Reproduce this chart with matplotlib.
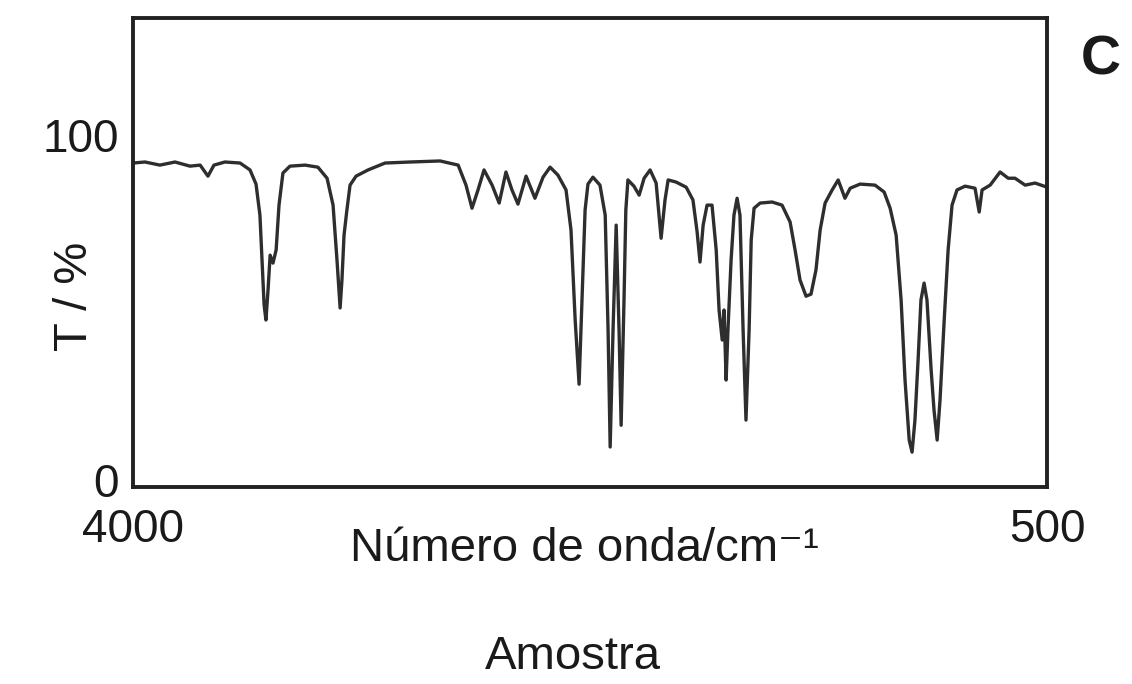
import matplotlib
matplotlib.use("Agg")
import matplotlib.pyplot as plt

plt.rcParams['font.family'] = ['Liberation Sans', 'DejaVu Sans']

# traced IR spectrum, wavenumber (cm-1) vs transmittance (%)
wavenumber = [
    4000, 3954, 3897, 3839, 3782, 3743, 3713, 3690, 3648, 3590,
    3552, 3529, 3514, 3506, 3498, 3491, 3483, 3475, 3464, 3452,
    3441, 3426, 3399, 3341, 3292, 3257, 3234, 3219, 3207, 3200,
    3192, 3181, 3169, 3146, 3100, 3035, 2939, 2824, 2755, 2725,
    2702, 2679, 2656, 2625, 2598, 2572, 2549, 2526, 2495, 2461,
    2430, 2403, 2373, 2342, 2323, 2307, 2292, 2281, 2269, 2258,
    2239, 2212, 2192, 2181, 2173, 2162, 2150, 2139, 2131, 2120,
    2113, 2105, 2082, 2062, 2043, 2020, 1997, 1978, 1963, 1951,
    1921, 1882, 1856, 1840, 1829, 1817, 1802, 1783, 1767, 1756,
    1744, 1737, 1729, 1722, 1710, 1699, 1687, 1676, 1664, 1653,
    1641, 1633, 1622, 1599, 1553, 1515, 1484, 1465, 1446, 1423,
    1404, 1385, 1369, 1350, 1323, 1300, 1274, 1254, 1216, 1159,
    1124, 1101, 1078, 1059, 1044, 1028, 1017, 1006, 994, 983,
    971, 960, 944, 933, 921, 910, 894, 879, 864, 845,
    814, 776, 760, 749, 718, 680, 649, 623, 584, 546,
    500,
]
transmittance = [
    91.9, 92.2, 91.3, 92.2, 91.0, 91.3, 88.1, 91.3, 92.2, 91.9,
    89.9, 85.8, 76.8, 63.8, 50.7, 46.4, 55.1, 65.2, 62.9, 66.7,
    79.7, 89.0, 91.0, 91.3, 90.7, 87.5, 79.7, 63.8, 49.9, 58.0,
    71.0, 78.3, 85.5, 88.1, 89.9, 91.9, 92.2, 92.5, 91.3, 85.5,
    78.8, 84.1, 89.9, 85.5, 80.3, 89.3, 84.1, 80.0, 88.1, 81.7,
    87.8, 90.7, 88.4, 84.1, 72.5, 46.4, 27.8, 52.2, 78.3, 85.8,
    87.8, 85.5, 76.8, 43.5, 9.6, 43.5, 73.9, 43.5, 15.9, 52.2,
    78.3, 87.0, 85.2, 82.6, 87.5, 89.9, 86.1, 70.1, 81.2, 87.0,
    86.4, 84.9, 81.2, 71.9, 63.2, 73.9, 79.7, 79.7, 66.7, 49.3,
    40.6, 49.3, 29.0, 43.5, 63.8, 76.8, 81.7, 76.8, 43.5, 17.4,
    43.5, 69.6, 78.8, 80.3, 80.6, 79.7, 74.8, 66.7, 58.0, 53.3,
    53.9, 60.9, 72.5, 80.3, 84.1, 87.0, 81.7, 84.6, 85.8, 85.5,
    83.5, 78.8, 71.0, 52.2, 29.0, 11.6, 8.1, 17.4, 34.8, 52.2,
    57.1, 52.2, 31.9, 20.3, 11.6, 23.2, 46.4, 66.7, 79.7, 84.1,
    85.2, 84.6, 77.7, 84.1, 85.5, 89.3, 87.5, 87.5, 85.5, 86.1,
    84.9,
]

x_ticks = [4000, 500]
y_ticks = [0, 100]

fig = plt.figure(figsize=(11.32, 6.84), dpi=100)
ax = fig.add_axes([0.1175, 0.288, 0.8075, 0.686])

ax.plot(wavenumber, transmittance, color='#2e2e2e', lw=2.4,
        solid_joinstyle='round')

ax.set_xlim(4000, 500)
ax.set_ylim(-2, 134)
ax.set_xticks(x_ticks)
ax.set_xticklabels([str(v) for v in x_ticks])
ax.set_yticks(y_ticks)
ax.set_yticklabels([str(v) for v in y_ticks])
ax.tick_params(length=0, labelsize=33, colors='#1a1a1a')
ax.tick_params(axis='x', pad=15)
ax.tick_params(axis='y', pad=10)
for s in ax.spines.values():
    s.set_linewidth(2.8)
    s.set_color('#222222')

fig.text(0.516, 0.198, 'Número de onda/cm⁻¹', ha='center', va='center',
         fontsize=34, color='#1a1a1a')
fig.text(0.506, 0.040, 'Amostra', ha='center', va='center',
         fontsize=34, color='#1a1a1a')
fig.text(0.066, 0.566, 'T / %', ha='center', va='center', rotation=90,
         fontsize=34, color='#1a1a1a')
fig.text(0.972, 0.912, 'C', ha='center', va='center',
         fontsize=40, fontweight='bold', color='#1a1a1a')

fig.savefig('out.png', dpi=100, facecolor='white')
